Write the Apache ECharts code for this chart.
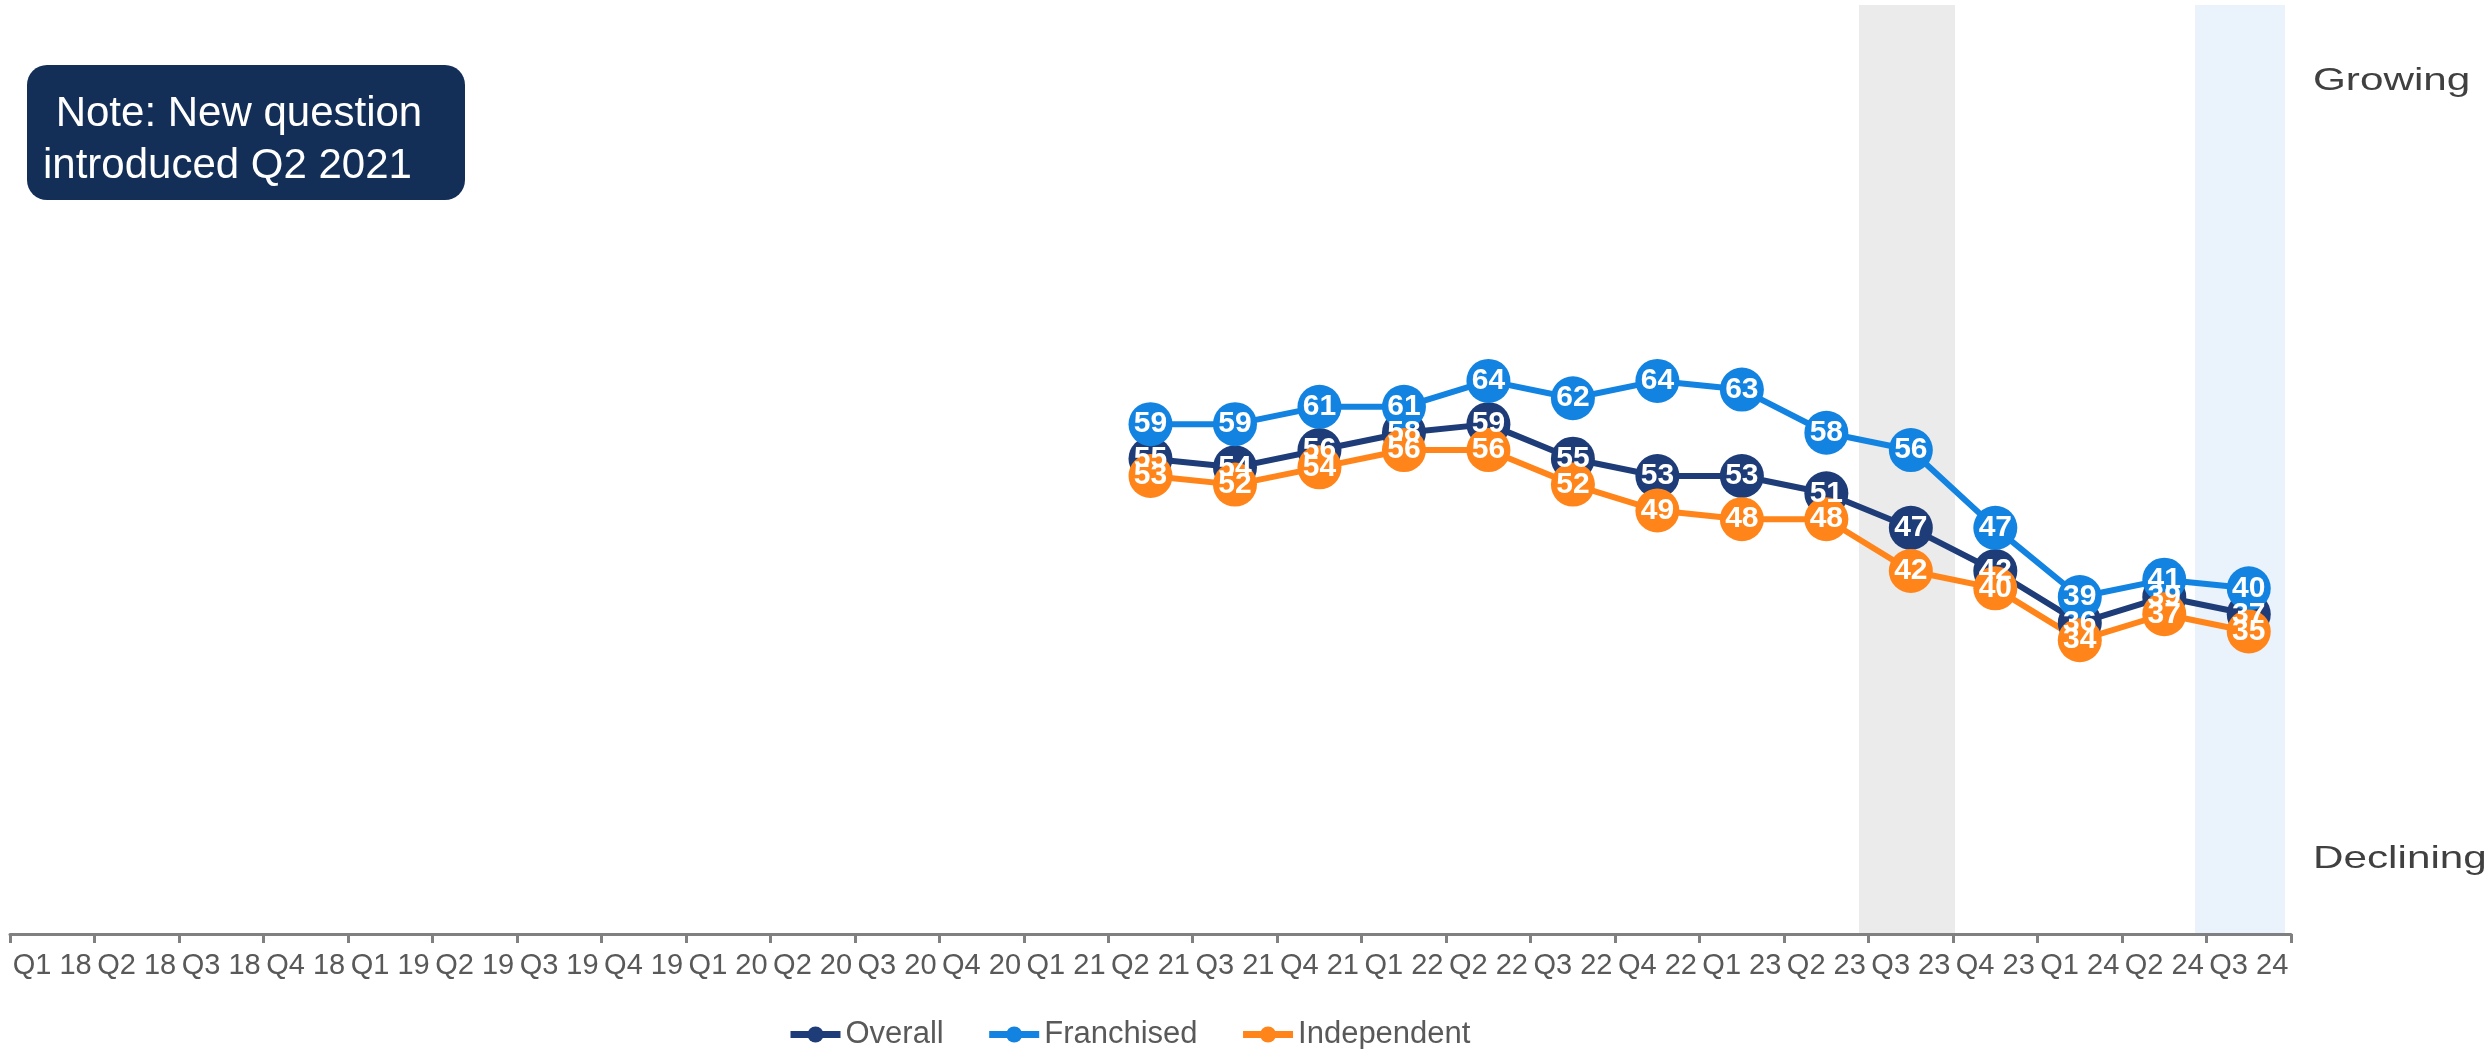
<!DOCTYPE html>
<html>
<head>
<meta charset="utf-8">
<script src="https://cdn.jsdelivr.net/npm/echarts@6/dist/echarts.min.js"></script>
<style>
html,body{margin:0;padding:0;background:#ffffff;}
#chart{width:2489px;height:1049px;}
</style>
</head>
<body>
<div id="chart"></div>
<script>
// ---- data ----
const categories = ['Q1 18','Q2 18','Q3 18','Q4 18','Q1 19','Q2 19','Q3 19','Q4 19',
  'Q1 20','Q2 20','Q3 20','Q4 20','Q1 21','Q2 21','Q3 21','Q4 21',
  'Q1 22','Q2 22','Q3 22','Q4 22','Q1 23','Q2 23','Q3 23','Q4 23',
  'Q1 24','Q2 24','Q3 24'];
const overall = [null,null,null,null,null,null,null,null,null,null,null,null,null,
  55,54,56,58,59,55,53,53,51,47,42,36,39,37];
const franchised = [null,null,null,null,null,null,null,null,null,null,null,null,null,
  59,59,61,61,64,62,64,63,58,56,47,39,41,40];
const independent = [null,null,null,null,null,null,null,null,null,null,null,null,null,
  53,52,54,56,56,52,49,48,48,42,40,34,37,35];
const seriesNames = ['Overall','Franchised','Independent'];
const highlightCats = ['Q3 23','Q3 24'];
const noteLines = [' Note: New question','introduced Q2 2021'];
const sideLabels = ['Growing','Declining'];

// ---- style ----
const FONT = 'Liberation Sans, Arial, sans-serif';
const colors = ['#1E3C77','#1283E0','#FF851A'];
const bandColors = ['#EBEBEB','#EAF2FB'];
const Y_MAX = 107.5;

const chart = echarts.init(document.getElementById('chart'), null, {renderer:'canvas'});

const bandData = categories.map(c => {
  const i = highlightCats.indexOf(c);
  return i < 0 ? null : {value: Y_MAX, itemStyle: {color: bandColors[i]}};
});

function lineSeries(name, data, color) {
  return {
    name: name,
    type: 'line',
    data: data,
    xAxisIndex: 0, yAxisIndex: 0,
    z: 3,
    symbol: 'circle',
    symbolSize: 44,
    showAllSymbol: true,
    lineStyle: {color: color, width: 6},
    itemStyle: {color: color},
    label: {
      show: true, position: 'inside', color: '#ffffff',
      fontFamily: FONT, fontWeight: 'bold', fontSize: 30
    },
    emphasis: {disabled: true}
  };
}

const option = {
  animation: false,
  backgroundColor: '#ffffff',
  grid: [
    {left: 10, right: 198, top: 5, bottom: 115, containLabel: false, z: 2},
    {left: 17, right: 204, top: 5, bottom: 115, containLabel: false, z: 0}
  ],
  legend: {
    data: seriesNames,
    left: 782, top: 1014,
    itemWidth: 50, itemHeight: 20, itemGap: 42,
    lineStyle: {width: 7},
    textStyle: {fontFamily: FONT, fontSize: 31, color: '#595959'}
  },
  xAxis: [
    {
      type: 'category', gridIndex: 0, z: 3,
      data: categories,
      boundaryGap: true,
      axisLine: {lineStyle: {color: '#808080', width: 3}},
      axisTick: {show: true, length: 9, lineStyle: {color: '#808080', width: 3}},
      axisLabel: {interval: 0, margin: 17, fontFamily: FONT, fontSize: 29, color: '#595959'},
      splitLine: {show: false}
    },
    {
      type: 'category', gridIndex: 1, data: categories, boundaryGap: true, show: false
    }
  ],
  yAxis: [
    {type: 'value', gridIndex: 0, min: 0, max: Y_MAX, show: false, splitLine: {show: false}},
    {type: 'value', gridIndex: 1, min: 0, max: Y_MAX, show: false, splitLine: {show: false}}
  ],
  series: [
    {
      name: 'bands', type: 'bar', data: bandData, z: 0, silent: true,
      xAxisIndex: 1, yAxisIndex: 1,
      barWidth: 96, barCategoryGap: '0%', label: {show: false}
    },
    lineSeries(seriesNames[0], overall, colors[0]),
    lineSeries(seriesNames[1], franchised, colors[1]),
    lineSeries(seriesNames[2], independent, colors[2])
  ],
  graphic: [
    {
      type: 'rect', left: 27, top: 65, z: 10,
      shape: {width: 438, height: 135, r: 20},
      style: {fill: '#132F57'}
    },
    {
      type: 'text', x: 44, y: 114, z: 11,
      style: {text: noteLines[0], fill: '#ffffff', font: '42px ' + FONT, verticalAlign: 'middle'}
    },
    {
      type: 'text', x: 43, y: 166, z: 11,
      style: {text: noteLines[1], fill: '#ffffff', font: '42px ' + FONT, verticalAlign: 'middle'}
    },
    {
      type: 'text', x: 2313, y: 81, scaleX: 1.32, z: 11,
      style: {text: sideLabels[0], fill: '#404040', font: '32px ' + FONT, verticalAlign: 'middle'}
    },
    {
      type: 'text', x: 2313, y: 859, scaleX: 1.32, z: 11,
      style: {text: sideLabels[1], fill: '#404040', font: '32px ' + FONT, verticalAlign: 'middle'}
    }
  ]
};
chart.setOption(option);
</script>
</body>
</html>
